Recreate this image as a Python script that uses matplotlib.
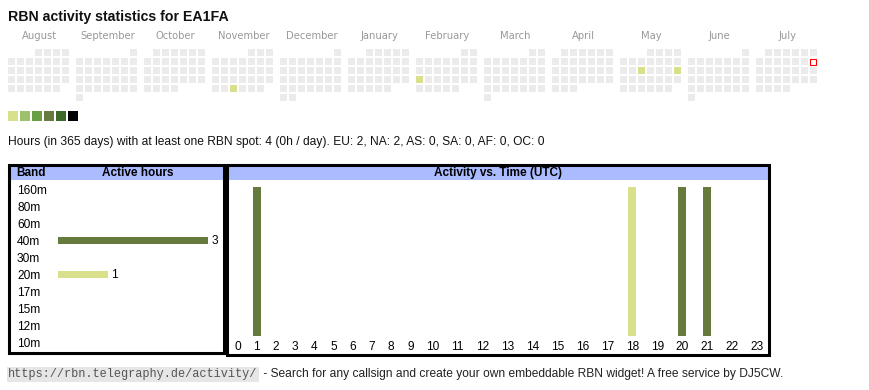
import datetime
import matplotlib.pyplot as plt
from matplotlib.patches import Rectangle

# --- data ---------------------------------------------------------------
callsign = "EA1FA"
start_day = datetime.date(2024, 8, 1)
end_day = datetime.date(2025, 7, 31)
today = datetime.date(2025, 7, 13)
active_days = {"2024-11-27": 1, "2025-02-17": 1, "2025-05-14": 1, "2025-05-18": 1}
level_colors = ["#d9e08c", "#9dc06a", "#6a9f46", "#657a3c", "#3e6a29", "#000000"]
empty_color = "#ebebeb"

bands = ["160m", "80m", "60m", "40m", "30m", "20m", "17m", "15m", "12m", "10m"]
band_hours = [0, 0, 0, 3, 0, 1, 0, 0, 0, 0]
band_colors = {"40m": "#657a3c", "20m": "#d9e08c"}

hours = list(range(24))
hour_activity = [0, 1, 0, 0, 0, 0, 0, 0, 0, 0, 0, 0, 0, 0, 0, 0, 0, 0, 1, 0, 1, 1, 0, 0]
hour_band = {1: "40m", 18: "20m", 20: "40m", 21: "40m"}

summary = ("Hours (in 365 days) with at least one RBN spot: 4 (0h / day). "
           "EU: 2, NA: 2, AS: 0, SA: 0, AF: 0, OC: 0")
footer_url = "https://rbn.telegraphy.de/activity/"
footer_text = " - Search for any callsign and create your own embeddable RBN widget! A free service by DJ5CW."

SANS = "Liberation Sans"
W, H = 870, 390

fig = plt.figure(figsize=(W / 100, H / 100), dpi=100)


def px_axes(x0, y0, x1, y1, **kw):
    return fig.add_axes([x0 / W, 1 - y1 / H, (x1 - x0) / W, (y1 - y0) / H], **kw)


# canvas in pixel units for the page-like parts
canvas = px_axes(0, 0, W, H)
canvas.set_xlim(0, W)
canvas.set_ylim(H, 0)
canvas.axis("off")

canvas.text(8, 17, "RBN activity statistics for " + callsign, family=SANS,
            weight="bold", fontsize=10.2, va="center", ha="left", color="#111111")

# calendar heatmap: one block per month, weeks as rows, Mon..Sun as columns
day = start_day
while day <= end_day:
    m = (day.year - start_day.year) * 12 + day.month - start_day.month
    first_wd = day.replace(day=1).weekday()
    row = (day.day + first_wd - 1) // 7
    x = 8 + m * 68 + day.weekday() * 9
    y = 49 + row * 9
    if day == today:
        canvas.add_patch(Rectangle((x + 0.5, y + 0.5), 6, 6, facecolor="white",
                                   edgecolor="red", lw=0.8))
    else:
        lvl = active_days.get(day.isoformat(), 0)
        c = level_colors[lvl - 1] if lvl else empty_color
        canvas.add_patch(Rectangle((x, y), 7, 7, facecolor=c, edgecolor="none"))
    if day.day == 1:
        canvas.text(8 + m * 68 + 31.5, 39, day.strftime("%B"), family="DejaVu Sans",
                    fontsize=7.2, color="#999999", ha="center", va="baseline")
    day += datetime.timedelta(days=1)

for i, c in enumerate(level_colors):
    canvas.add_patch(Rectangle((8 + i * 12, 111), 10, 10, facecolor=c, edgecolor="none"))

canvas.text(8, 142, summary, family=SANS, fontsize=8.66, va="center", ha="left", color="#111111")

# table frames and headers
canvas.add_patch(Rectangle((10, 165.5), 214, 14, facecolor="#aabbff", edgecolor="none"))
canvas.add_patch(Rectangle((229, 165.5), 540, 14.5, facecolor="#aabbff", edgecolor="none"))
canvas.add_patch(Rectangle((9.5, 164.5), 215, 188, fill=False, edgecolor="black", lw=2.2))
canvas.add_patch(Rectangle((227.5, 164.5), 542, 190, fill=False, edgecolor="black", lw=2.2))
canvas.text(16, 173, "Band", family=SANS, weight="bold", fontsize=8.5, va="center", ha="left")
canvas.text(138, 173, "Active hours", family=SANS, weight="bold", fontsize=8.5,
            va="center", ha="center")
canvas.text(498.5, 173, "Activity vs. Time (UTC)", family=SANS, weight="bold",
            fontsize=8.5, va="center", ha="center")

# footer
canvas.text(8, 374.5, footer_url, family="Liberation Mono", fontsize=8.6, color="#555555",
            va="center", ha="left",
            bbox=dict(boxstyle="square,pad=0.12", facecolor="#e6e6e6", edgecolor="none"))
canvas.text(260, 374.5, footer_text, family=SANS, fontsize=8.66, color="#222222",
            va="center", ha="left")

# band bars
axb = px_axes(58, 181, 224, 351)
axb.patch.set_alpha(0)
bcols = [band_colors.get(b, "#657a3c") for b in bands]
bars = axb.barh(range(len(bands)), band_hours, height=0.41, color=bcols)
axb.bar_label(bars, labels=[str(v) if v else "" for v in band_hours], padding=2.5,
              family=SANS, fontsize=8.6)
axb.set_xlim(0, 166 / 50)
axb.set_ylim(9.5, -0.52)
axb.set_yticks(range(len(bands)), bands)
axb.tick_params(axis="y", length=0, pad=29.5, labelsize=8.6)
for lbl in axb.get_yticklabels():
    lbl.set_ha("left")
    lbl.set_family(SANS)
axb.set_xticks([])
for s in axb.spines.values():
    s.set_visible(False)

# activity vs time: columns sized by their label, like an auto-width html table
hour_labels = [str(h) for h in hours]
slot_w = [13.4 + 5.8 * len(s) for s in hour_labels]
slot_x = []
acc = 0.0
for w in slot_w:
    slot_x.append(acc + w / 2)
    acc += w

axt = px_axes(228, 181, 228 + acc, 336)
axt.patch.set_alpha(0)
peak = max(hour_activity)
tcols = [band_colors[hour_band[h]] if h in hour_band else "white" for h in hours]
axt.bar(slot_x, [v / peak for v in hour_activity], width=8, color=tcols)
axt.set_xlim(0, acc)
axt.set_ylim(0, 155 / 149)
axt.set_xticks(slot_x, hour_labels)
axt.tick_params(axis="x", length=0, pad=3.5, labelsize=8.6)
for lbl in axt.get_xticklabels():
    lbl.set_family(SANS)
axt.set_yticks([])
for s in axt.spines.values():
    s.set_visible(False)

fig.savefig("out.png", dpi=100)
